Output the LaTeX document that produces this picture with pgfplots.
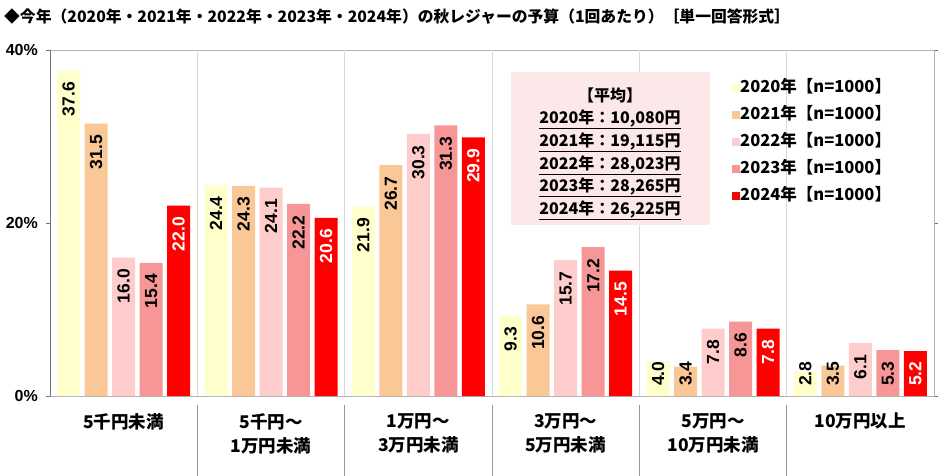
\documentclass[border=0pt]{standalone}
\usepackage{fontspec}
\setmainfont{Noto Sans CJK JP}
\newfontfamily\arial{Liberation Sans}
\usepackage{pgfplots}
\usepackage{pgfplotstable}
\pgfplotsset{compat=1.18}
\definecolor{c20}{RGB}{255,255,204}
\definecolor{c21}{RGB}{250,199,150}
\definecolor{c22}{RGB}{255,204,204}
\definecolor{c23}{RGB}{247,150,150}
\definecolor{c24}{RGB}{255,0,0}
\definecolor{boxpink}{RGB}{252,232,232}

\pgfplotstableread{
x a b c d e
0 37.6 31.5 16.0 15.4 22.0
1 24.4 24.3 24.1 22.2 20.6
2 21.9 26.7 30.3 31.3 29.9
3 9.3 10.6 15.7 17.2 14.5
4 4.0 3.4 7.8 8.6 7.8
5 2.8 3.5 6.1 5.3 5.2
}\data

\pgfplotsset{
  bars/.style={ybar, bar width=23pt, bar shift=0pt, draw=none, fill=#1},
  lab/.style={forget plot, draw=none, mark=none, nodes near coords, point meta=explicit symbolic,
    every node near coord/.style={rotate=90, anchor=east, inner sep=0pt, font=\arial\bfseries\fontsize{17.5}{17.5}\selectfont}},
}

\begin{document}
\begin{tikzpicture}
\useasboundingbox (0,0) rectangle (940pt,475pt);
\node[anchor=west, inner sep=0pt, font=\bfseries\fontsize{15.8}{16}\selectfont] at (4pt,458pt) {◆今年（2020年・2021年・2022年・2023年・2024年）の秋レジャーの予算（1回あたり）［単一回答形式］};
\begin{axis}[
  at={(50pt,79pt)}, anchor=south west,
  scale only axis, width=884pt, height=346pt,
  xmin=-0.5, xmax=5.5, ymin=0, ymax=40,
  clip=false,
  axis line style={draw=black!30},
  xtick={0,1,2,3,4,5},
  xticklabels={{5千円未満},{5千円～\\1万円未満},{1万円～\\3万円未満},{3万円～\\5万円未満},{5万円～\\10万円未満},{10万円以上}},
  xticklabel style={align=center, anchor=north, inner sep=0pt, yshift=-13pt, font=\bfseries\fontsize{17.5}{24}\selectfont},
  x tick style={draw=none},
  extra x ticks={0.5,1.5,2.5,3.5,4.5},
  extra x tick labels={},
  extra x tick style={grid=major, major grid style={draw=black!15}, tick style={draw=none}},
  ytick={0,20,40},
  yticklabels={0\%,20\%,40\%},
  yticklabel style={font=\arial\bfseries\fontsize{16}{16}\selectfont, inner sep=0pt, xshift=-8pt},
  y tick style={draw=black!55},
  tick align=outside, major tick length=4pt,
  legend style={at={(0.7715,0.913)}, anchor=north west, draw=none, fill=none, inner sep=0pt,
    font=\bfseries\fontsize{16.5}{16.5}\selectfont, row sep=12pt,
    nodes={inner sep=0pt, text height=12pt, text depth=3pt},
    /tikz/every even column/.append style={column sep=5pt}},
  legend image code/.code={\path[#1,draw=none] (0pt,-4pt) rectangle (8pt,4pt);},
  legend cell align=left,
]
\addplot[bars=c20] table[x expr=\thisrow{x}-0.3733, y=a]{\data};
\addplot[bars=c21] table[x expr=\thisrow{x}-0.18665, y=b]{\data};
\addplot[bars=c22] table[x expr=\thisrow{x}, y=c]{\data};
\addplot[bars=c23] table[x expr=\thisrow{x}+0.18665, y=d]{\data};
\addplot[bars=c24] table[x expr=\thisrow{x}+0.3733, y=e]{\data};
\legend{2020年【n=1000】,2021年【n=1000】,2022年【n=1000】,2023年【n=1000】,2024年【n=1000】}
\addplot[lab] table[x expr=\thisrow{x}-0.3733, y expr={max(\thisrow{a}-1.3,4.0)}, meta=a]{\data};
\addplot[lab] table[x expr=\thisrow{x}-0.18665, y expr={max(\thisrow{b}-1.3,4.0)}, meta=b]{\data};
\addplot[lab] table[x expr=\thisrow{x}, y expr={max(\thisrow{c}-1.3,4.0)}, meta=c]{\data};
\addplot[lab] table[x expr=\thisrow{x}+0.18665, y expr={max(\thisrow{d}-1.3,4.0)}, meta=d]{\data};
\addplot[lab, every node near coord/.append style={text=white}] table[x expr=\thisrow{x}+0.3733, y expr={max(\thisrow{e}-1.3,4.0)}, meta=e]{\data};
\draw[black!55] (rel axis cs:0,0) -- (rel axis cs:0,1);
\pgfplotsinvokeforeach{0.5,1.5,2.5,3.5,4.5}{\draw[black!40] (axis cs:#1,0) ++(0pt,-9pt) -- ++(0pt,-72pt);}
\end{axis}
\fill[boxpink] (511pt,250pt) rectangle (710pt,403pt);
\begin{scope}[every node/.style={font=\bfseries\fontsize{16}{16}\selectfont, inner sep=0pt}]
\node at (610pt,380pt) {【平均】};
\node at (610pt,356pt) {\underline{2020年：10,080円}};
\node at (610pt,333pt) {\underline{2021年：19,115円}};
\node at (610pt,310pt) {\underline{2022年：28,023円}};
\node at (610pt,288pt) {\underline{2023年：28,265円}};
\node at (610pt,265pt) {\underline{2024年：26,225円}};
\end{scope}
\end{tikzpicture}
\end{document}
